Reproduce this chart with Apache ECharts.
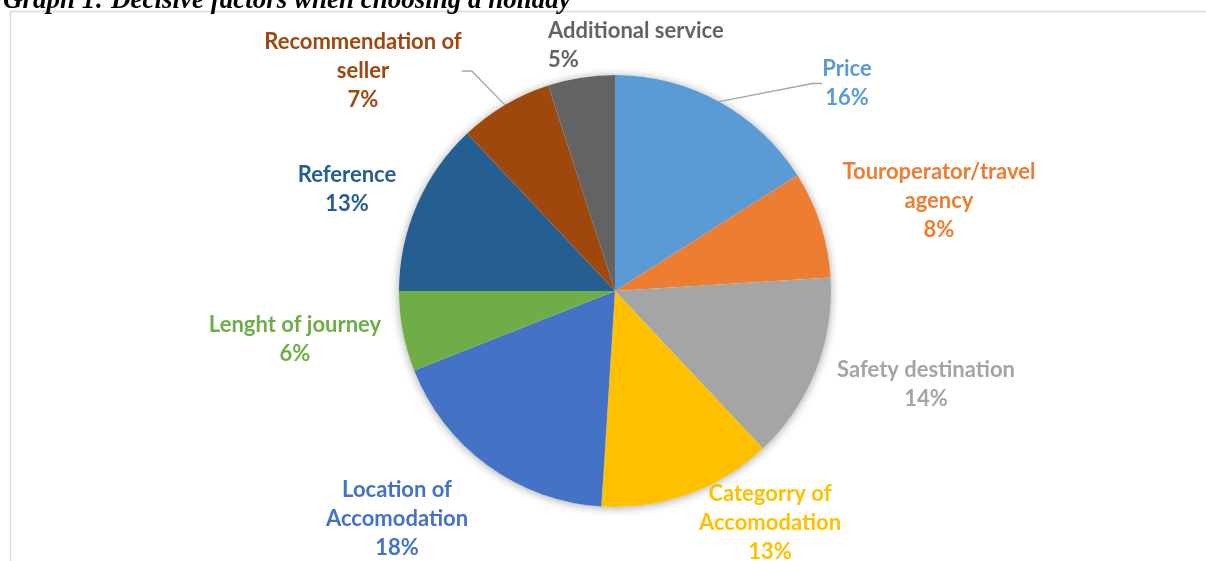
<!DOCTYPE html>
<html>
<head>
<meta charset="utf-8">
<script src="https://cdn.jsdelivr.net/npm/echarts@6/dist/echarts.min.js"></script>
<style>
  html, body { margin: 0; padding: 0; background: #ffffff; }
  #chart { width: 1206px; height: 561px; }
</style>
</head>
<body>
<div id="chart"></div>
<script>
// Decisive factors when choosing a holiday (share of answers, %)
const factors = [
  'Price',
  'Touroperator/travel\nagency',
  'Safety destination',
  'Categorry of\nAccomodation',
  'Location of\nAccomodation',
  'Lenght of journey',
  'Reference',
  'Recommendation of\nseller',
  'Additional service'
];
const shares = [16, 8, 14, 13, 18, 6, 13, 7, 5];

const sliceColors = ['#5B9BD5', '#ED7D31', '#A5A5A5', '#FFC000', '#4472C4',
                     '#70AD47', '#255E91', '#9E480E', '#636363'];

// Label placement around the pie: [x, y, align]
const labelPlacement = [
  [847, 83.5, 'center'],
  [939, 201, 'center'],
  [926, 384.5, 'center'],
  [770, 523, 'center'],
  [397, 519, 'center'],
  [295, 339.5, 'center'],
  [347, 189.5, 'center'],
  [363, 71, 'center'],
  [548, 45.5, 'left']
];
const withLeader = [0, 7];

const pieCenter = [615, 291];
const pieRadius = 216;

const chart = echarts.init(document.getElementById('chart'), null, { renderer: 'canvas' });

chart.setOption({
  animation: false,
  backgroundColor: '#ffffff',
  title: {
    text: 'Graph 1: Decisive factors when choosing a holiday',
    left: -2,
    top: -17,
    textStyle: {
      fontFamily: 'Liberation Serif',
      fontStyle: 'italic',
      fontWeight: 'bold',
      fontSize: 27,
      color: '#000000'
    }
  },
  graphic: [{
    type: 'rect',
    silent: true,
    z: -1,
    shape: { x: 10.5, y: 11.5, width: 1400, height: 800 },
    style: { fill: '#ffffff', stroke: '#d9d9d9', lineWidth: 1.5 }
  }],
  series: [{
    // soft drop shadow behind the whole pie
    type: 'pie',
    silent: true,
    z: 1,
    center: pieCenter,
    radius: [0, pieRadius],
    label: { show: false },
    labelLine: { show: false },
    itemStyle: {
      color: '#ffffff',
      shadowBlur: 10,
      shadowColor: 'rgba(0,0,0,0.35)',
      shadowOffsetY: 1
    },
    data: [{ value: 1, name: '' }]
  }, {
    type: 'pie',
    z: 2,
    center: pieCenter,
    radius: [0, pieRadius],
    startAngle: 90,
    clockwise: true,
    itemStyle: { borderWidth: 0 },
    label: {
      show: true,
      position: 'outside',
      formatter: '{b}\n{c}%',
      fontFamily: 'Lato, "Open Sans", sans-serif',
      fontWeight: 'bold',
      fontSize: 22,
      lineHeight: 29
    },
    labelLine: {
      show: true,
      length: 20,
      length2: 10,
      lineStyle: { color: '#a6a6a6', width: 1.3 }
    },
    labelLayout: function (params) {
      const p = labelPlacement[params.dataIndex];
      return { x: p[0], y: p[1], align: p[2], verticalAlign: 'middle' };
    },
    data: factors.map(function (name, i) {
      return {
        name: name,
        value: shares[i],
        itemStyle: { color: sliceColors[i] },
        label: { color: sliceColors[i] },
        labelLine: { show: withLeader.indexOf(i) >= 0 }
      };
    })
  }]
});
</script>
</body>
</html>
